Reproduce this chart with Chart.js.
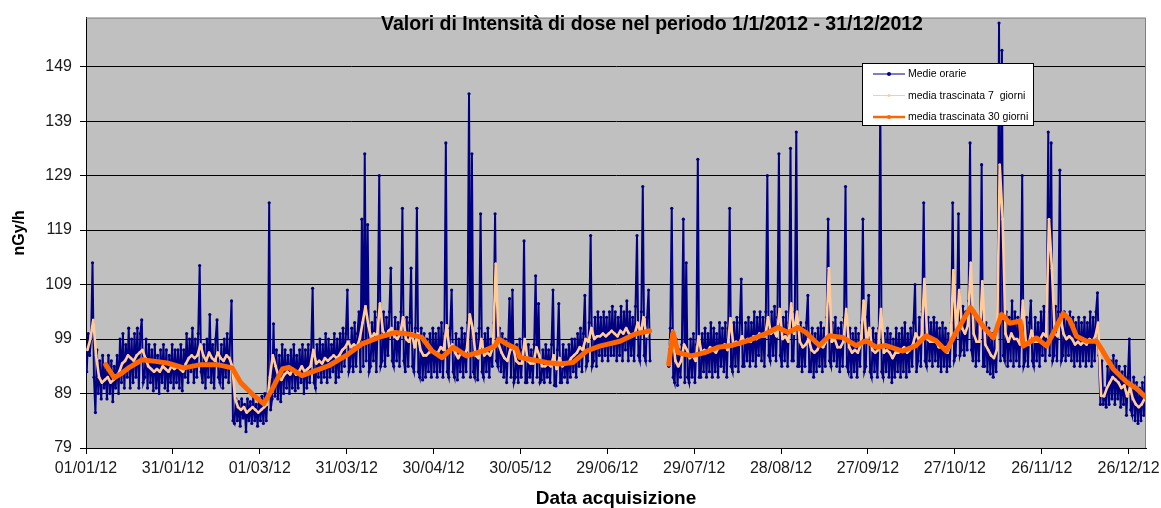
<!DOCTYPE html>
<html>
<head>
<meta charset="utf-8">
<title>Intensità di dose 2012</title>
<script src="https://cdn.jsdelivr.net/npm/chart.js@4/dist/chart.umd.min.js"></script>
<style>
  html, body { margin: 0; padding: 0; background: #ffffff; }
  canvas { display: block; }
</style>
</head>
<body>
<canvas id="grafDose" width="1161" height="508"></canvas>
<script>
//* Etichette dell'asse x (una ogni 30 giorni) e dell'asse y
const etichetteDate = ["01/01/12", "31/01/12", "01/03/12", "31/03/12", "30/04/12", "30/05/12", "29/06/12",
	"29/07/12", "28/08/12", "27/09/12", "27/10/12", "26/11/12", "26/12/12"];
const tickY = [79, 89, 99, 109, 119, 129, 139, 149];

//* Giorno dell'anno in cui inizia ogni mese (2012 bisestile)
const inizioMese = [0, 31, 60, 91, 121, 152, 182, 213, 244, 274, 305, 335];

//* Medie orarie: due letture per giorno, una riga per mese (nGy/h)
const orarie = [
	// gennaio
	[93, 100, 96, 99, 113, 92, 85.5, 97, 89, 95, 88, 96, 90, 94, 88, 96, 89, 95, 87.5, 94, 90, 96,
	 89, 99, 91, 100, 90, 98, 92, 101, 90, 99, 91, 100, 92, 101, 90, 100, 102.5, 91, 92, 99, 90, 98,
	 91, 97, 89.5, 98, 90, 96, 89, 97, 91, 98, 90, 97, 89.5, 96, 91, 98, 90, 97],
	// febbraio
	[91, 97, 90, 98, 89.5, 97, 92, 100, 91, 99, 93, 101, 91, 99, 92, 100, 112.5, 93, 91, 98, 90, 99,
	 92, 103.5, 91, 98, 90, 99, 102.5, 92, 91, 98, 90, 99, 92, 100, 91, 99, 106, 84, 83.5, 88, 84, 87.5,
	 83, 88, 84.5, 87, 82, 88, 84, 87.5, 83.5, 88.5, 84, 87, 83, 88],
	// marzo
	[84, 88.5, 83.5, 89, 84, 89, 124, 86, 88, 101.8, 88.5, 97, 88, 96, 87.5, 98, 89, 97, 90, 96, 89, 97,
	 90, 98, 89.5, 96, 90, 97, 91, 98, 89, 97, 90, 98, 91, 97, 108.3, 91, 90, 98, 92, 99, 91, 98, 92, 100,
	 91, 99, 92, 98, 93, 100, 91, 99, 92, 100, 93, 101, 94, 100, 108, 93],
	// aprile
	[94, 101, 93, 102, 94, 100, 104, 93, 121, 94, 133, 95, 120, 93, 94, 102, 95, 104, 93, 103, 129, 94,
	 95, 104, 94, 103, 96, 104, 112, 95, 94, 103, 95, 102, 94, 104, 123, 95, 93, 103, 94, 102, 112, 94,
	 93, 101, 123, 93, 92, 101, 91.5, 100, 92, 99, 93, 100, 92, 101, 93, 100],
	// maggio
	[92, 101, 93, 102, 92, 100, 135, 93, 92, 101, 108, 93, 92, 100, 91.5, 99, 93, 101, 92, 100, 93, 102,
	 144, 92, 133, 93, 92, 100, 91.5, 101, 122, 93, 92, 100, 93, 101, 92, 99, 94, 102, 122, 95, 94, 101,
	 93, 100, 92, 99, 91, 98, 106.4, 92, 108, 91, 92, 98, 91, 99, 92, 97, 117, 91],
	// giugno
	[91, 98, 92, 97, 91, 98, 110.6, 92, 105.5, 91, 91.5, 97, 91, 98, 92, 97, 91, 98, 108, 90.5, 90.4, 97,
	 105.5, 91, 91, 98, 92, 97, 91, 98, 92, 99, 93, 99, 92, 100, 94, 101, 93, 100, 107, 94, 95, 102,
	 118, 94, 95, 103, 94, 104, 96, 103, 95, 104, 96, 103, 95, 104, 96, 105],
	// luglio (14-19 luglio senza dati)
	[96, 104, 95, 103, 96, 105, 95, 104, 97, 106, 95, 104, 96, 103, 95, 105, 118, 96, 95, 104, 127, 96,
	 95, 103, 108, 95, null, null, null, null, null, null, null, null, null, null, null, null,
	 94, 101, 123, 92, 91, 99, 90.5, 97, 92, 98, 121, 91, 113, 92, 91, 99, 92, 100, 91, 98, 132, 92, 92, 100],
	// agosto
	[93, 101, 92, 100, 93, 102, 92, 101, 93, 100, 92, 102, 94, 101, 93, 102, 92, 101, 123, 94, 93, 102,
	 94, 103, 93, 102, 110, 94, 94, 102, 95, 103, 94, 102, 95, 104, 94, 103, 96, 104, 95, 103, 94, 104,
	 129, 96, 95, 104, 96, 105, 95, 103, 133, 96, 94, 103, 95, 104, 94, 102, 134, 95],
	// settembre
	[95, 104, 137, 94, 94, 102, 93, 101, 94, 102, 107, 93, 93, 101, 92, 100, 93, 101, 94, 102, 93, 101,
	 94, 103, 121, 95, 94, 102, 95, 103, 94, 101, 93, 102, 94, 103, 127, 94, 93, 101, 92, 100, 93, 101,
	 92, 100, 94, 102, 121, 93, 94, 103, 107, 93, 92, 101, 93, 100, 92, 101],
	// ottobre
	[143, 93, 92, 100, 93, 101, 92, 100, 91, 99, 92, 101, 93, 100, 92, 101, 93, 102, 92, 100, 93, 101,
	 94, 102, 109, 93, 95, 103, 94, 104, 124, 95, 94, 103, 95, 102, 94, 103, 95, 102, 94, 101, 93, 102,
	 94, 101, 93, 100, 94, 102, 124, 95, 96, 104, 122, 96, 97, 105, 96, 104, 97, 106],
	// novembre
	[135, 97, 95, 104, 94, 103, 95, 102, 131, 94, 94, 102, 93, 101, 92.6, 100, 92, 99, 93, 101, 157, 95,
	 152, 96, 95, 104, 94, 103, 95, 106, 94, 104, 95, 103, 94, 102, 129, 94, 95, 103, 94, 102, 106, 95,
	 94, 103, 95, 102, 94, 104, 96, 105, 95, 104, 137, 96, 135, 95, 96, 105],
	// dicembre
	[95, 104, 130, 95, 96, 104, 95, 103, 96, 104, 95, 103, 94, 102, 95, 103, 94, 102, 95, 103, 94, 102,
	 95, 104, 94, 103, 95, 104, 107.5, 96, 87, 95, 87, 90, 86.5, 94, 87, 95, 88, 96, 87, 95, 88, 94,
	 86.5, 93, 87, 94, 85, 92, 99, 86, 85, 92, 84, 91, 83.5, 90, 84, 91, 85, 92],
];

//* Media trascinata 7 giorni: un valore al giorno, una riga per mese
const media7 = [
	[97, 99, 102.5, 96, 92, 91, 91.5, 92, 91, 91.5, 92, 93, 94.5, 95, 96, 95.5, 95, 96, 96.5, 97, 95.5,
	 94, 93.5, 93, 93.5, 93, 94, 93.5, 93, 94, 93.5],
	[94, 93.5, 93, 94.5, 95.5, 96, 95.5, 96, 98, 96, 95, 96.5, 95.5, 95, 96.5, 95.5, 95, 96, 95.5, 94,
	 88, 86.5, 86, 86.5, 85.5, 86, 86.5, 86, 85.5],
	[86, 86.5, 87, 92, 96, 94, 92, 91.5, 92.5, 93, 92.5, 93.5, 92.5, 93, 94, 93, 93.5, 94, 97, 94.5, 95,
	 94.5, 95.5, 95, 95.5, 96, 95.5, 96, 97, 97.5, 98.5],
	[97.5, 98, 97.5, 99, 102, 105, 101.5, 99, 100, 99.5, 105.5, 100.5, 99.5, 100.5, 101, 99.5, 99, 100,
	 103, 99, 98.5, 100, 97.5, 100, 97, 96, 96, 96.5, 97, 96.5],
	[96.5, 97.5, 97, 101.5, 97, 98, 96.5, 95.5, 96.5, 96, 97, 103.5, 101, 96, 95.5, 99, 96, 96.5, 96,
	 97.5, 112.8, 98, 96.5, 95.5, 95, 97, 97.5, 95, 94.5, 94.5, 99],
	[95, 94.5, 94.5, 97.5, 96, 94, 94, 94.5, 94, 96, 93.5, 95.5, 94, 94.5, 94.5, 95.5, 96, 96.5, 97.5,
	 97, 99, 98.5, 101, 99, 99.5, 99.5, 100, 99.5, 100, 100.5],
	[100, 99.5, 100.5, 100, 101, 100, 99.5, 100, 102, 100, 103, 99.5, 100.5, null, null, null, null, null,
	 null, 97.5, 100.5, 95, 94, 95, 98, 97, 95.5, 96, 95, 99.5, 96.5],
	[97, 96.5, 97.5, 97, 96.5, 97.5, 97.5, 98, 97, 102.8, 98, 98.5, 98, 99.5, 98.5, 99, 98.5, 99.5, 99,
	 100, 99.5, 99.5, 103, 100, 100.5, 99.5, 104.5, 99, 99.5, 98.5, 105.5],
	[100, 104, 98.5, 97.5, 98, 99, 97, 96.5, 97, 98, 97.5, 98.5, 112, 98.5, 99, 97.5, 97.5, 98.5, 104.5,
	 97.5, 96.5, 97, 96.5, 98, 106, 98.5, 101, 97, 96.5, 97],
	[104.5, 96.5, 97, 96.5, 95.5, 96.5, 96.5, 97, 97.5, 96.5, 97, 98, 100, 99, 99.5, 110, 99, 98.5, 98.5,
	 98.5, 97.5, 97.5, 97.5, 96.5, 98, 111.6, 100, 108, 101, 100, 101.5],
	[113, 100, 98.5, 98.5, 109.6, 98, 97, 96, 95.5, 97, 131, 121, 100, 98.5, 100, 99, 99, 98, 106, 98.5,
	 98, 100.5, 98.5, 98.5, 99, 100, 99.5, 121, 112, 100],
	[99.5, 103, 100, 99, 99.5, 99, 98, 98.5, 98, 98.5, 98, 99, 98.5, 99.5, 102, 88.6, 88.5, 90, 91, 92,
	 91.5, 91, 90, 90.5, 88.5, 90, 88, 87, 86.5, 87, 88],
];

//* Media trascinata 30 giorni: giorno dell'anno e valore
const giorni30 = [6.8, 9.7, 12, 15, 19.4, 24, 28, 33.8, 39.6, 45.3, 50.5, 53.4, 58, 61.4, 64.3, 67.8, 70,
	74.6, 79.2, 83.8, 89.6, 95.3, 101.1, 106.8, 111.4, 116, 119.5, 122.9, 126.8, 131.4, 137.2, 141.2, 142.5,
	145.2, 148.7, 149.8, 153.3, 159, 163.6, 168.2, 172.8, 177.4, 184.4, 189.4, 194.6, 198, 201.2, 202.7,
	204.4, 209, 213.6, 218.2, 222.8, 228.6, 234.3, 238.9, 242.4, 245.9, 248.6, 253.2, 256.7, 261.3, 265.9,
	269.3, 272.8, 276.2, 282, 286.6, 290.1, 293.5, 297, 300.4, 305.4, 309.8, 313.3, 316.1, 319, 322.5,
	323.6, 328.2, 331.7, 337.4, 339.7, 342, 345.5, 348.9, 350.7, 354.7, 359.3, 362.8, 366];
const media30 = [94.3, 91.9, 92.6, 93.8, 95.2, 94.9, 94.6, 93.7, 94.3, 94.3, 93.7, 91, 88.6, 87.1, 89.8,
	93.5, 93.8, 92.3, 93.2, 94.1, 95.9, 98.1, 99.3, 100.2, 99.9, 99.3, 96.8, 95.6, 97.5, 95.9, 96.8, 97.7,
	99, 98.1, 97.2, 95.6, 95.3, 94.7, 94.4, 94.7, 96.8, 97.7, 98.6, 99.9, 100.5, null, 94.4, 100.2, 96.5,
	95.9, 96.5, 97.5, 97.8, 98.7, 99.9, 101.1, 100.2, 101.1, 100.2, 97.8, 99.6, 99.3, 97.8, 98.7, 97.5,
	97.8, 96.8, 97.8, 99.6, 98.7, 96.8, 100.2, 104.8, 101.3, 99.2, 103.5, 101.9, 102.3, 97.7, 99.2, 97.7,
	103.7, 102.5, 99.5, 98.6, 98.6, 97.1, 93.5, 91.1, 89.9, 88.3];

//* Colori delle serie
const colOrarie = "#000080";
const colMedia7 = "#FFCC99";
const colMedia30 = "#FF6600";

//* Convertiamo le righe mensili in punti {x: giorno, y: valore}
let puntiOrarie = [];
orarie.forEach((mese, m) => {
	mese.forEach((v, k) => puntiOrarie.push({ x: inizioMese[m] + k / 2 + 0.25, y: v }));
});
let puntiMedia7 = [];
media7.forEach((mese, m) => {
	mese.forEach((v, k) => puntiMedia7.push({ x: inizioMese[m] + k + 0.5, y: v }));
});
let puntiMedia30 = giorni30.map((g, i) => ({ x: g, y: media30[i] }));

Chart.defaults.font.family = '"Liberation Sans", Arial, sans-serif';
Chart.defaults.color = "#1a1a1a";

//* Sfondo grigio dell'area del grafico
const sfondoArea = {
	id: "sfondoArea",
	beforeDraw(chart) {
		const { ctx, chartArea: a } = chart;
		ctx.save();
		ctx.fillStyle = "#C0C0C0";
		ctx.fillRect(a.left, a.top, a.right - a.left, a.bottom - a.top);
		ctx.restore();
	},
	afterDraw(chart) {
		const { ctx, chartArea: a } = chart;
		ctx.save();
		//* bordo superiore e destro dell'area
		ctx.strokeStyle = "#808080";
		ctx.lineWidth = 1;
		ctx.beginPath();
		ctx.moveTo(a.left, a.top + 0.5);
		ctx.lineTo(a.right - 0.5, a.top + 0.5);
		ctx.lineTo(a.right - 0.5, a.bottom);
		ctx.stroke();
		ctx.restore();
	},
};

//* Titolo e legenda disegnati dentro l'area del grafico
const titoloLegenda = {
	id: "titoloLegenda",
	afterDraw(chart) {
		const ctx = chart.ctx;
		ctx.save();
		ctx.fillStyle = "#000";
		ctx.font = 'bold 19.5px "Liberation Sans", Arial, sans-serif';
		ctx.textAlign = "center";
		ctx.textBaseline = "middle";
		ctx.fillText("Valori di Intensità di dose nel periodo 1/1/2012 - 31/12/2012", 652, 25);

		//* Riquadro della legenda
		const lx = 862, ly = 63, lw = 171, lh = 62;
		ctx.fillStyle = "#fff";
		ctx.fillRect(lx, ly, lw, lh);
		ctx.strokeStyle = "#000";
		ctx.lineWidth = 1;
		ctx.strokeRect(lx + 0.5, ly + 0.5, lw, lh);

		ctx.font = '10.5px "Liberation Sans", Arial, sans-serif';
		ctx.textAlign = "left";
		const spessori = [1, 1, 2.5];
		const raggi = [2, 1.5, 2];
		chart.data.datasets.forEach((ds, i) => {
			const y = ly + 11 + i * 21.5;
			ctx.strokeStyle = ds.borderColor;
			ctx.lineWidth = spessori[i];
			ctx.beginPath();
			ctx.moveTo(lx + 11, y);
			ctx.lineTo(lx + 43, y);
			ctx.stroke();
			ctx.fillStyle = ds.borderColor;
			ctx.beginPath();
			ctx.arc(lx + 27, y, raggi[i], 0, Math.PI * 2);
			ctx.fill();
			ctx.fillStyle = "#000";
			ctx.fillText(ds.label, lx + 46, y + 0.5);
		});
		ctx.restore();
	},
};

const ctx = document.getElementById("grafDose").getContext("2d");

const grafDose = new Chart(ctx, {
	type: "line",
	data: {
		datasets: [
			{
				label: "Medie orarie",
				data: puntiOrarie,
				borderColor: colOrarie,
				backgroundColor: colOrarie,
				borderWidth: 2,
				pointRadius: 1.6,
				pointBorderWidth: 0,
				pointBackgroundColor: colOrarie,
				spanGaps: false,
				order: 2,
			},
			{
				label: "media trascinata 7  giorni",
				data: puntiMedia7,
				borderColor: colMedia7,
				backgroundColor: colMedia7,
				borderWidth: 2.6,
				pointRadius: 1.3,
				pointBorderWidth: 0,
				pointBackgroundColor: colMedia7,
				borderJoinStyle: "round",
				spanGaps: false,
				order: 1,
			},
			{
				label: "media trascinata 30 giorni",
				data: puntiMedia30,
				borderColor: colMedia30,
				backgroundColor: colMedia30,
				borderWidth: 5,
				pointRadius: 0,
				borderJoinStyle: "round",
				borderCapStyle: "round",
				spanGaps: false,
				order: 0,
			},
		],
	},
	options: {
		responsive: false,
		animation: false,
		events: [],
		layout: { padding: { top: 13, right: 15, left: 0, bottom: 0 } },
		plugins: {
			legend: { display: false },
			tooltip: { enabled: false },
		},
		scales: {
			x: {
				type: "linear",
				min: 0,
				max: 366,
				afterBuildTicks: (scale) => {
					scale.ticks = etichetteDate.map((_, i) => ({ value: i * 30 }));
				},
				afterFit: (scale) => {
					scale.height = 60;
					//* l'ultima etichetta può uscire a destra
					scale.paddingRight = 0;
					scale.paddingLeft = 0;
				},
				ticks: {
					autoSkip: false,
					maxRotation: 0,
					padding: 5,
					font: { size: 16 },
					color: "#1a1a1a",
					callback: (value, index) => etichetteDate[index],
				},
				grid: {
					drawOnChartArea: false,
					drawTicks: true,
					tickLength: 6,
					color: "#000",
				},
				border: { display: true, color: "#000", width: 1 },
				title: {
					display: true,
					text: "Data acquisizione",
					font: { size: 19, weight: "bold", lineHeight: 1 },
					color: "#000",
					padding: { top: 0, bottom: 0 },
				},
			},
			y: {
				type: "linear",
				min: 79,
				max: 158,
				afterBuildTicks: (scale) => {
					scale.ticks = tickY.map((v) => ({ value: v }));
				},
				afterFit: (scale) => {
					scale.width = 86;
				},
				ticks: {
					padding: 8,
					font: { size: 16 },
					color: "#1a1a1a",
				},
				grid: {
					color: "#000",
					lineWidth: 1,
					tickLength: 6,
				},
				border: { display: true, color: "#000", width: 1 },
				title: {
					display: true,
					text: "nGy/h",
					font: { size: 16, weight: "bold", lineHeight: 1.2 },
					color: "#000",
					padding: { top: 10, bottom: 0 },
				},
			},
		},
	},
	plugins: [sfondoArea, titoloLegenda],
});
</script>
</body>
</html>
